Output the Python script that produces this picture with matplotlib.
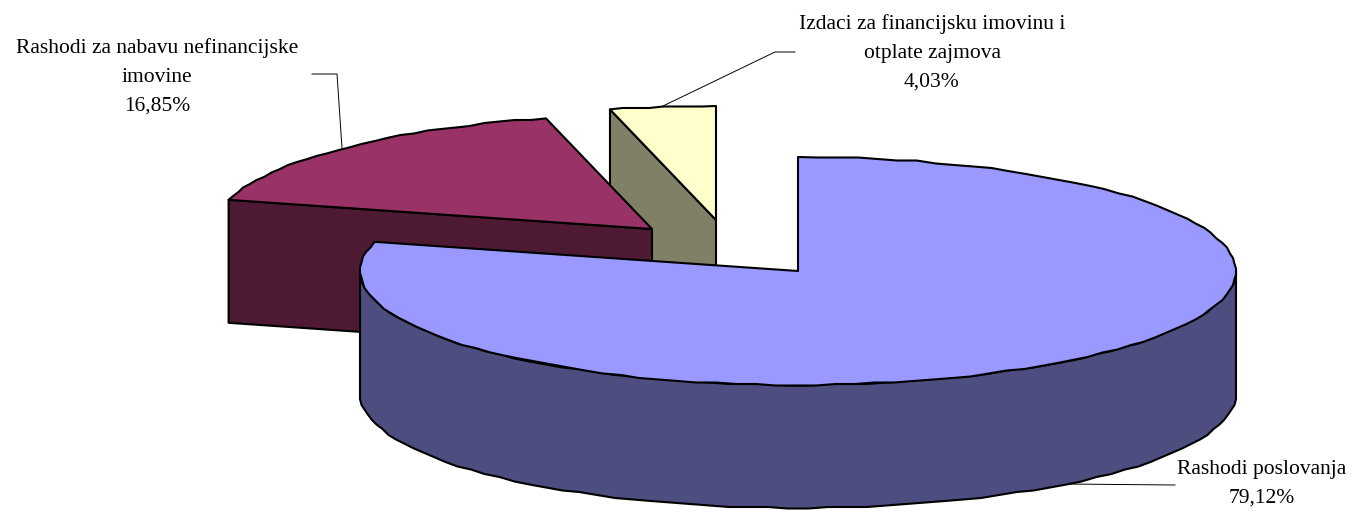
import numpy as np
import matplotlib
matplotlib.use("Agg")
import matplotlib.pyplot as plt
from matplotlib.patches import Polygon

categories = ["Rashodi poslovanja", "Rashodi za nabavu nefinancijske\nimovine",
              "Izdaci za financijsku imovinu i\notplate zajmova"]
shares = [79.12, 16.85, 4.03]
share_labels = ["79,12%", "16,85%", "4,03%"]

top_colors = ["#9999FF", "#993366", "#FFFFCC"]
side_colors = ["#4D4D80", "#4D1933", "#808066"]
centers = [(798, 271), (652, 229), (716, 220)]
RX, RY, DEPTH = 438, 114, 123
GRID = 1.5          # coarse outline grid of the original vector drawing
RIM_NUDGE = np.deg2rad(0.5)

fig = plt.figure(figsize=(13.52, 5.12), dpi=100)
ax = fig.add_axes([0, 0, 1, 1])
ax.set_xlim(0, 1352)
ax.set_ylim(512, 0)
ax.axis("off")

edges = np.concatenate([[0], np.cumsum(shares)]) / sum(shares) * 2 * np.pi
edges[2] += RIM_NUDGE


def arc(c, a, b, n=160, rough=True):
    t = np.linspace(a, b, n)
    pts = np.column_stack([c[0] + RX * np.sin(t), c[1] - RY * np.cos(t)])
    if rough:
        inner = np.round(pts[1:-1] / GRID) * GRID
        pts = np.vstack([pts[0], inner, pts[-1]])
    return pts


def draw(poly, color, z):
    ax.add_patch(Polygon(poly, closed=True, facecolor=color, edgecolor="black",
                         linewidth=1.5, joinstyle="round", zorder=z))


down = np.array([0, DEPTH])

# third slice (small, back)
c = np.array(centers[2], float)
a, b = edges[2], edges[3]
rim = arc(c, a, b, 9)
draw(np.vstack([rim[0], c, c + down, rim[0] + down]), side_colors[2], 1)
draw(np.vstack([c, rim]), top_colors[2], 1.5)

# second slice
c = np.array(centers[1], float)
a, b = edges[1], edges[2]
rim = arc(c, a, b, 30)
draw(np.vstack([rim[0], c, c + down, rim[0] + down]), side_colors[1], 2)
draw(np.vstack([c, rim]), top_colors[1], 2.5)

# first slice (main)
c = np.array(centers[0], float)
a, b = edges[0], edges[1]
wall_top = arc(c, np.pi / 2, 3 * np.pi / 2, 70)
wall_low = arc(c + down, np.pi / 2, 3 * np.pi / 2, 70)
draw(np.vstack([wall_top, wall_low[::-1]]), side_colors[0], 3)
rim = arc(c, a, b, 110)
draw(np.vstack([c, rim]), top_colors[0], 3.5)

# leader lines
leaders = [([1065, 1175], [484, 485]),
           ([342, 337, 312], [148, 74, 74]),
           ([663, 775, 795], [106, 52, 52])]
for xs, ys in leaders:
    ax.plot(xs, ys, color="black", linewidth=0.7, zorder=0.5)

# labels
text_pos = [(1262, 484), (157, 77), (932, 53)]
for name, pct, (x, y) in zip(categories, share_labels, text_pos):
    ax.text(x, y, name + "\n" + pct, ha="center", va="center", ma="center",
            family=["Liberation Serif", "DejaVu Serif"], fontsize=15.5,
            linespacing=1.72, color="black", zorder=5)

fig.savefig("out.png", dpi=100, facecolor="white")
